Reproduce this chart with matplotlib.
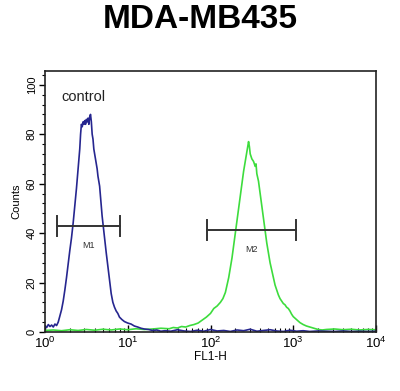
import numpy as np
import matplotlib
matplotlib.use("Agg")
import matplotlib.pyplot as plt
from matplotlib.ticker import LogLocator, MultipleLocator

plt.rcParams['font.family'] = ['Liberation Sans', 'DejaVu Sans']

title = "MDA-MB435"
xlabel = "FL1-H"
ylabel = "Counts"
legend_text = "control"

# control histogram (blue): decade exponent of FL1-H and counts
blue_exp = [0.00, 0.02, 0.04, 0.06, 0.08, 0.10, 0.12, 0.14, 0.16, 0.18, 0.20, 0.22, 0.24, 0.26,
            0.28, 0.30, 0.32, 0.34, 0.36, 0.38, 0.40, 0.42, 0.43, 0.44, 0.45, 0.46, 0.47, 0.48,
            0.49, 0.50, 0.51, 0.52, 0.53, 0.54, 0.55, 0.56, 0.57, 0.58, 0.59, 0.60, 0.61, 0.62,
            0.63, 0.64, 0.65, 0.66, 0.67, 0.68, 0.69, 0.70, 0.72, 0.74, 0.76, 0.78, 0.80, 0.82,
            0.84, 0.86, 0.88, 0.90, 0.93, 0.96, 1.00, 1.04, 1.08, 1.12, 1.16, 1.20, 1.25, 1.30,
            1.35, 1.40, 1.45, 1.52, 1.60, 1.68, 1.76, 1.84, 1.92, 2.00, 2.08, 2.16, 2.24, 2.32,
            2.40, 2.48, 2.56, 2.64, 2.72, 2.80, 2.88, 2.96, 3.04, 3.12, 3.20, 3.30, 3.40, 3.50,
            3.60, 3.70, 3.80, 3.90, 4.00]
blue_counts = [2.5, 1.8, 3.0, 2.2, 2.8, 2.0, 3.2, 2.6, 4.0, 6.5, 9.0, 12.5, 17, 22,
               27.5, 33, 38, 44, 51, 58, 66, 74, 80, 84, 83, 85, 84, 85.5,
               84, 86, 85, 86.5, 84, 87, 88, 85, 80, 78, 74, 72, 70, 68,
               66, 63, 61, 59, 55, 51, 47, 44, 38, 32, 26.5, 21, 15.5, 12,
               10, 8.5, 7.5, 6.0, 5.0, 4.2, 3.6, 3.2, 2.4, 2.0, 1.5, 1.2, 1.0, 0.6,
               0.8, 0.3, 0.5, 0.3, 0.9, 0.4, 0.2, 0.7, 0.3, 1.0, 0.4, 0.6, 0.2, 0.8,
               0.5, 1.1, 0.3, 0.6, 0.9, 0.4, 0.2, 0.7, 0.3, 0.5, 0.2, 0.4, 0.3, 0.2,
               0.4, 0.2, 0.3, 0.2, 0.3]

# sample histogram (green)
green_exp = [0.00, 0.10, 0.20, 0.30, 0.40, 0.50, 0.60, 0.70, 0.80, 0.90, 1.00, 1.10, 1.20, 1.30,
             1.40, 1.50, 1.55, 1.60, 1.65, 1.70, 1.75, 1.80, 1.85, 1.90, 1.95, 2.00, 2.04, 2.08,
             2.12, 2.15, 2.18, 2.20, 2.22, 2.24, 2.26, 2.28, 2.30, 2.32, 2.34, 2.36, 2.38, 2.40,
             2.42, 2.44, 2.46, 2.47, 2.48, 2.49, 2.50, 2.52, 2.54, 2.55, 2.56, 2.58, 2.60, 2.62,
             2.64, 2.66, 2.68, 2.70, 2.72, 2.74, 2.76, 2.78, 2.80, 2.82, 2.84, 2.86, 2.88, 2.90,
             2.92, 2.94, 2.96, 2.98, 3.00, 3.04, 3.08, 3.12, 3.16, 3.20, 3.25, 3.30, 3.35, 3.40,
             3.50, 3.60, 3.70, 3.80, 3.90, 4.00]
green_counts = [0.6, 0.8, 0.5, 0.9, 0.6, 1.0, 0.7, 1.1, 0.8, 1.2, 0.9, 1.3, 1.0, 1.2,
                1.5, 1.3, 1.8, 1.6, 2.2, 2.0, 2.6, 3.0, 3.6, 4.8, 6.0, 7.5, 9.5, 10.5,
                12, 13.5, 16, 19, 22, 26, 30, 35, 40, 45, 50, 55, 60, 65,
                69, 73, 77, 75, 72, 71, 70, 69, 67, 68, 64, 61, 56, 51,
                46, 41, 36, 32, 28, 25, 22, 19, 17, 15, 13.5, 12.5, 11.5, 11,
                10, 9.5, 8.5, 7.2, 6.2, 5.0, 3.8, 3.0, 2.4, 2.0, 1.5, 1.0, 0.8, 1.0,
                1.2, 0.9, 1.1, 0.8, 1.0, 0.9]

# markers: name, left, right, level
marker_names = ["M1", "M2"]
marker_left = [1.41, 90]
marker_right = [8.06, 1070]
marker_level = [43, 41.3]

fig = plt.figure(figsize=(4.0, 3.91), dpi=100)
ax = fig.add_axes([0.1125, 0.151, 0.8275, 0.667])

blue_x = [10 ** e for e in blue_exp]
green_x = [10 ** e for e in green_exp]
ax.plot(green_x, green_counts, color='#3ddc3d', lw=1.2)
ax.plot(blue_x, blue_counts, color='#26268f', lw=1.2)

for name, l, r, lev in zip(marker_names, marker_left, marker_right, marker_level):
    ax.plot([l, r], [lev, lev], color='#333333', lw=1.4)
    ax.plot([l, l], [lev - 4, lev + 4], color='#333333', lw=1.4)
    ax.plot([r, r], [lev - 4, lev + 4], color='#333333', lw=1.4)
    gm = np.sqrt(l * r)
    ax.text(gm, lev - 8, name, ha='center', va='center', fontsize=6.5, color='#333333')

ax.set_xscale('log')
ax.set_xlim(1, 1e4)
ax.set_ylim(0, 105.5)

ax.xaxis.set_major_locator(LogLocator(base=10, numticks=10))
ax.xaxis.set_minor_locator(LogLocator(base=10, subs=np.arange(2, 10), numticks=100))
ax.yaxis.set_major_locator(MultipleLocator(20))
ax.yaxis.set_minor_locator(MultipleLocator(4))

ax.tick_params(axis='x', which='major', direction='in', length=5, width=1, labelsize=9.5, pad=3)
ax.tick_params(axis='x', which='minor', direction='in', length=3, width=0.8)
ax.tick_params(axis='y', which='major', direction='out', length=4, width=1, labelsize=8, pad=2)
ax.tick_params(axis='y', which='minor', direction='out', length=2.5, width=0.8)
for lab in ax.get_yticklabels():
    lab.set_rotation(90)
    lab.set_va('center')

for s in ax.spines.values():
    s.set_linewidth(1.2)
    s.set_color('#222222')

ax.set_xlabel(xlabel, fontsize=8.5, labelpad=0)
ax.set_ylabel(ylabel, fontsize=8, labelpad=4)
ax.text(0.05, 0.9, legend_text, transform=ax.transAxes, fontsize=10.5, color='#222222', va='center')

fig.text(0.5, 0.951, title, ha='center', va='center', fontsize=24, fontweight='bold')

fig.savefig('out.png', dpi=100)
